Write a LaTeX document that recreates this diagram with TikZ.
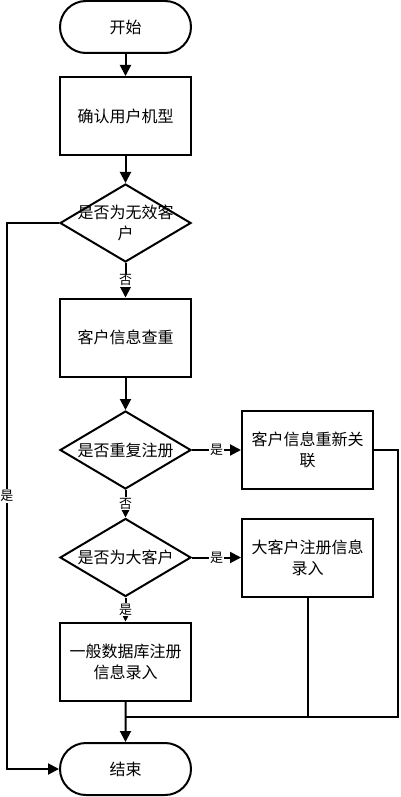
\documentclass[tikz,border=0pt]{standalone}
\usepackage{fontspec}
\newfontfamily\cjk{Noto Sans CJK SC}
\usetikzlibrary{shapes.geometric,shapes.misc,arrows.meta}
\begin{document}
\begin{tikzpicture}[x=1pt,y=-1pt,
  every node/.style={font=\cjk\fontsize{16}{21}\selectfont},
  ln/.style={line width=2pt},
  arr/.style={ln,-{Triangle[length=11pt,width=11pt]}},
  term/.style={rounded rectangle,draw,ln,minimum width=131pt,minimum height=52pt,inner sep=0pt},
  proc/.style={rectangle,draw,ln,minimum width=131pt,minimum height=78pt,inner sep=0pt,align=center},
  dia/.style={diamond,draw,ln,minimum width=131pt,minimum height=78pt,inner sep=0pt,shape aspect=1.68},
  lab/.style={fill=white,inner sep=1pt,font=\cjk\fontsize{13}{15}\selectfont}]
\useasboundingbox (0,0) rectangle (400,797);
\node[term] (start) at (125.5,27) {开始};
\node[proc] (b1) at (125.5,116) {确认用户机型};
\node[dia] (d1) at (125.5,223) {};
\node[align=center] (t1) at (125.5,223) {是否为无效客\\户};
\node[proc] (b2) at (125.5,337.5) {客户信息查重};
\node[dia] (d2) at (125.5,450) {};
\node (t2) at (125.5,450) {是否重复注册};
\node[proc] (b3) at (307.5,450) {客户信息重新关\\联};
\node[dia] (d3) at (125.5,557.5) {};
\node (t3) at (125.5,557.5) {是否为大客户};
\node[proc] (b4) at (307.5,557.5) {大客户注册信息\\录入};
\node[proc] (b5) at (125.5,661.5) {一般数据库注册\\信息录入};
\node[term] (end) at (125.5,769) {结束};
\coordinate (j) at (125.5,717);
\coordinate (rc) at (398,717);
\draw[arr] (start) -- (b1);
\draw[arr] (b1) -- (d1);
\draw[arr] (d1) -- node[lab]{否} (b2);
\draw[arr] (b2) -- (d2);
\draw[arr] (d2) -- node[lab]{是} (b3);
\draw[arr] (d2) -- node[lab]{否} (d3);
\draw[arr] (d3) -- node[lab]{是} (b4);
\draw[arr] (d3) -- node[lab]{是} (b5);
\draw[arr] (b5) -- (end);
\draw[arr] (d1.west) -- ++(-52,0) |- node[lab,pos=0.25]{是} (end.west);
\draw[ln] (b3.east) -| (rc) -- (j);
\draw[ln] (b4.south) -- (b4.south |- j);
\end{tikzpicture}
\end{document}
